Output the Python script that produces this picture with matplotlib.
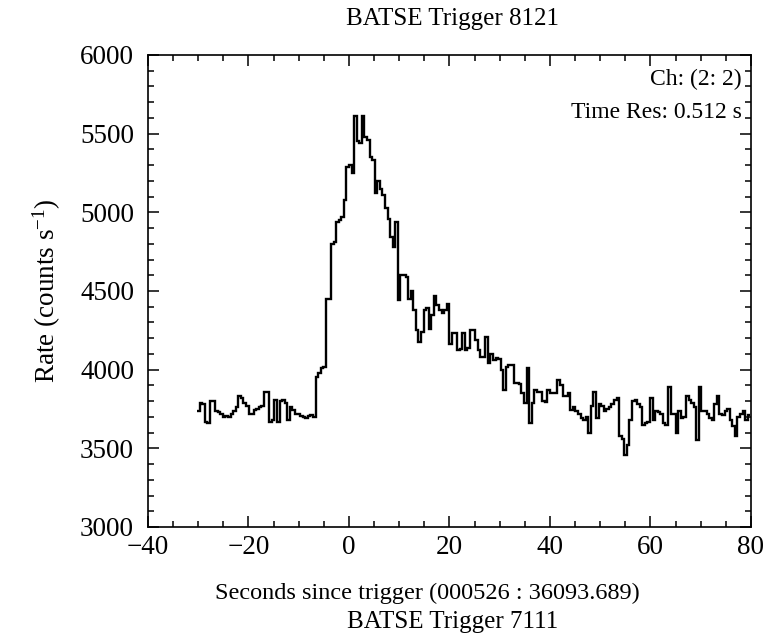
#!/usr/bin/env python

"""
BATSE light curve, channel 2, 0.512 s resolution.
Step plot of count rate vs seconds since trigger.
"""

import numpy as np
import matplotlib
matplotlib.use('Agg')
import matplotlib.pyplot as plt
from matplotlib.ticker import MultipleLocator

plt.rcParams.update({'font.family': 'Liberation Serif',
                     'mathtext.fontset': 'custom',
                     'mathtext.rm': 'Liberation Serif',
                     'mathtext.it': 'Liberation Serif:italic'})

# light curve (counts/s), one value per 0.512 s bin
t_start = -30.208
time_res = 0.512
rate = [3735, 3790, 3780, 3665, 3660, 3800, 3800, 3740, 3730, 3715,
        3700, 3705, 3700, 3720, 3740, 3760, 3830, 3820, 3790, 3770,
        3715, 3720, 3745, 3750, 3760, 3770, 3860, 3855, 3670, 3680,
        3810, 3670, 3800, 3810, 3790, 3680, 3760, 3745, 3720, 3715,
        3705, 3700, 3690, 3705, 3710, 3700, 3955, 3980, 4010, 4015,
        4450, 4450, 4800, 4810, 4940, 4950, 4970, 5080, 5290, 5300,
        5250, 5610, 5450, 5440, 5610, 5480, 5460, 5350, 5330, 5120,
        5200, 5150, 5110, 5030, 4960, 4840, 4780, 4940, 4440, 4600,
        4600, 4590, 4450, 4500, 4380, 4250, 4175, 4240, 4380, 4390,
        4260, 4350, 4470, 4410, 4380, 4360, 4380, 4420, 4160, 4230,
        4230, 4125, 4130, 4230, 4125, 4140, 4250, 4250, 4190, 4125,
        4080, 4080, 4210, 4040, 4100, 4060, 4075, 4070, 4000, 3870,
        4015, 4030, 4030, 3915, 3915, 3910, 3850, 3790, 4010, 3660,
        3790, 3870, 3860, 3860, 3800, 3795, 3870, 3850, 3850, 3850,
        3935, 3900, 3830, 3830, 3850, 3745, 3760, 3740, 3720, 3690,
        3680, 3700, 3600, 3770, 3860, 3690, 3780, 3770, 3740, 3750,
        3760, 3780, 3810, 3820, 3580, 3560, 3460, 3520, 3680, 3800,
        3810, 3780, 3760, 3650, 3660, 3670, 3820, 3680, 3735, 3730,
        3720, 3660, 3650, 3890, 3720, 3720, 3600, 3740, 3690, 3700,
        3830, 3810, 3790, 3760, 3550, 3890, 3740, 3740, 3720, 3690,
        3680, 3780, 3830, 3720, 3710, 3740, 3750, 3680, 3640, 3580,
        3700, 3720, 3740, 3680, 3710]

x_ticks = [-40, -20, 0, 20, 40, 60, 80]
y_ticks = [3000, 3500, 4000, 4500, 5000, 5500, 6000]


def main():
    rate_arr = np.array(rate, dtype=float)
    edges = t_start + time_res * np.arange(len(rate_arr) + 1)

    fig = plt.figure(figsize=(7.8, 6.39), dpi=100)
    ax = fig.add_axes([0.1897, 0.1753, 0.7731, 0.7387])

    ax.stairs(rate_arr, edges, color='black', linewidth=1.7, baseline=None)

    ax.set_xlim(-40, 80)
    ax.set_ylim(3000, 6000)
    ax.set_xticks(x_ticks)
    ax.set_yticks(y_ticks)
    ax.xaxis.set_minor_locator(MultipleLocator(5))
    ax.yaxis.set_minor_locator(MultipleLocator(100))
    ax.tick_params(which='both', direction='in', top=True, right=True, labelsize=19.5, width=1.1)
    ax.tick_params(which='major', length=8)
    ax.tick_params(axis='y', which='major', pad=10)
    ax.tick_params(axis='x', which='major', pad=6)
    ax.tick_params(which='minor', length=4)
    for sp in ax.spines.values():
        sp.set_linewidth(1.2)

    ax.set_ylabel(r'Rate (counts s$^{-1}$)', fontsize=19.5, labelpad=12)

    ax.text(0.985, 0.948, 'Ch: (2: 2)', transform=ax.transAxes, ha='right', va='center', fontsize=17)
    ax.text(0.985, 0.878, 'Time Res: 0.512 s', transform=ax.transAxes, ha='right', va='center', fontsize=17)

    fig.text(0.58, 1 - 19 / 639, 'BATSE Trigger 8121', ha='center', va='center', fontsize=18)
    fig.text(0.548, 1 - 593 / 639, 'Seconds since trigger (000526 : 36093.689)', ha='center', va='center',
             fontsize=17.5)
    fig.text(0.58, 1 - 622 / 639, 'BATSE Trigger 7111', ha='center', va='center', fontsize=18)

    fig.savefig('out.png', dpi=100)
    plt.close()


if __name__ == '__main__':
    main()
